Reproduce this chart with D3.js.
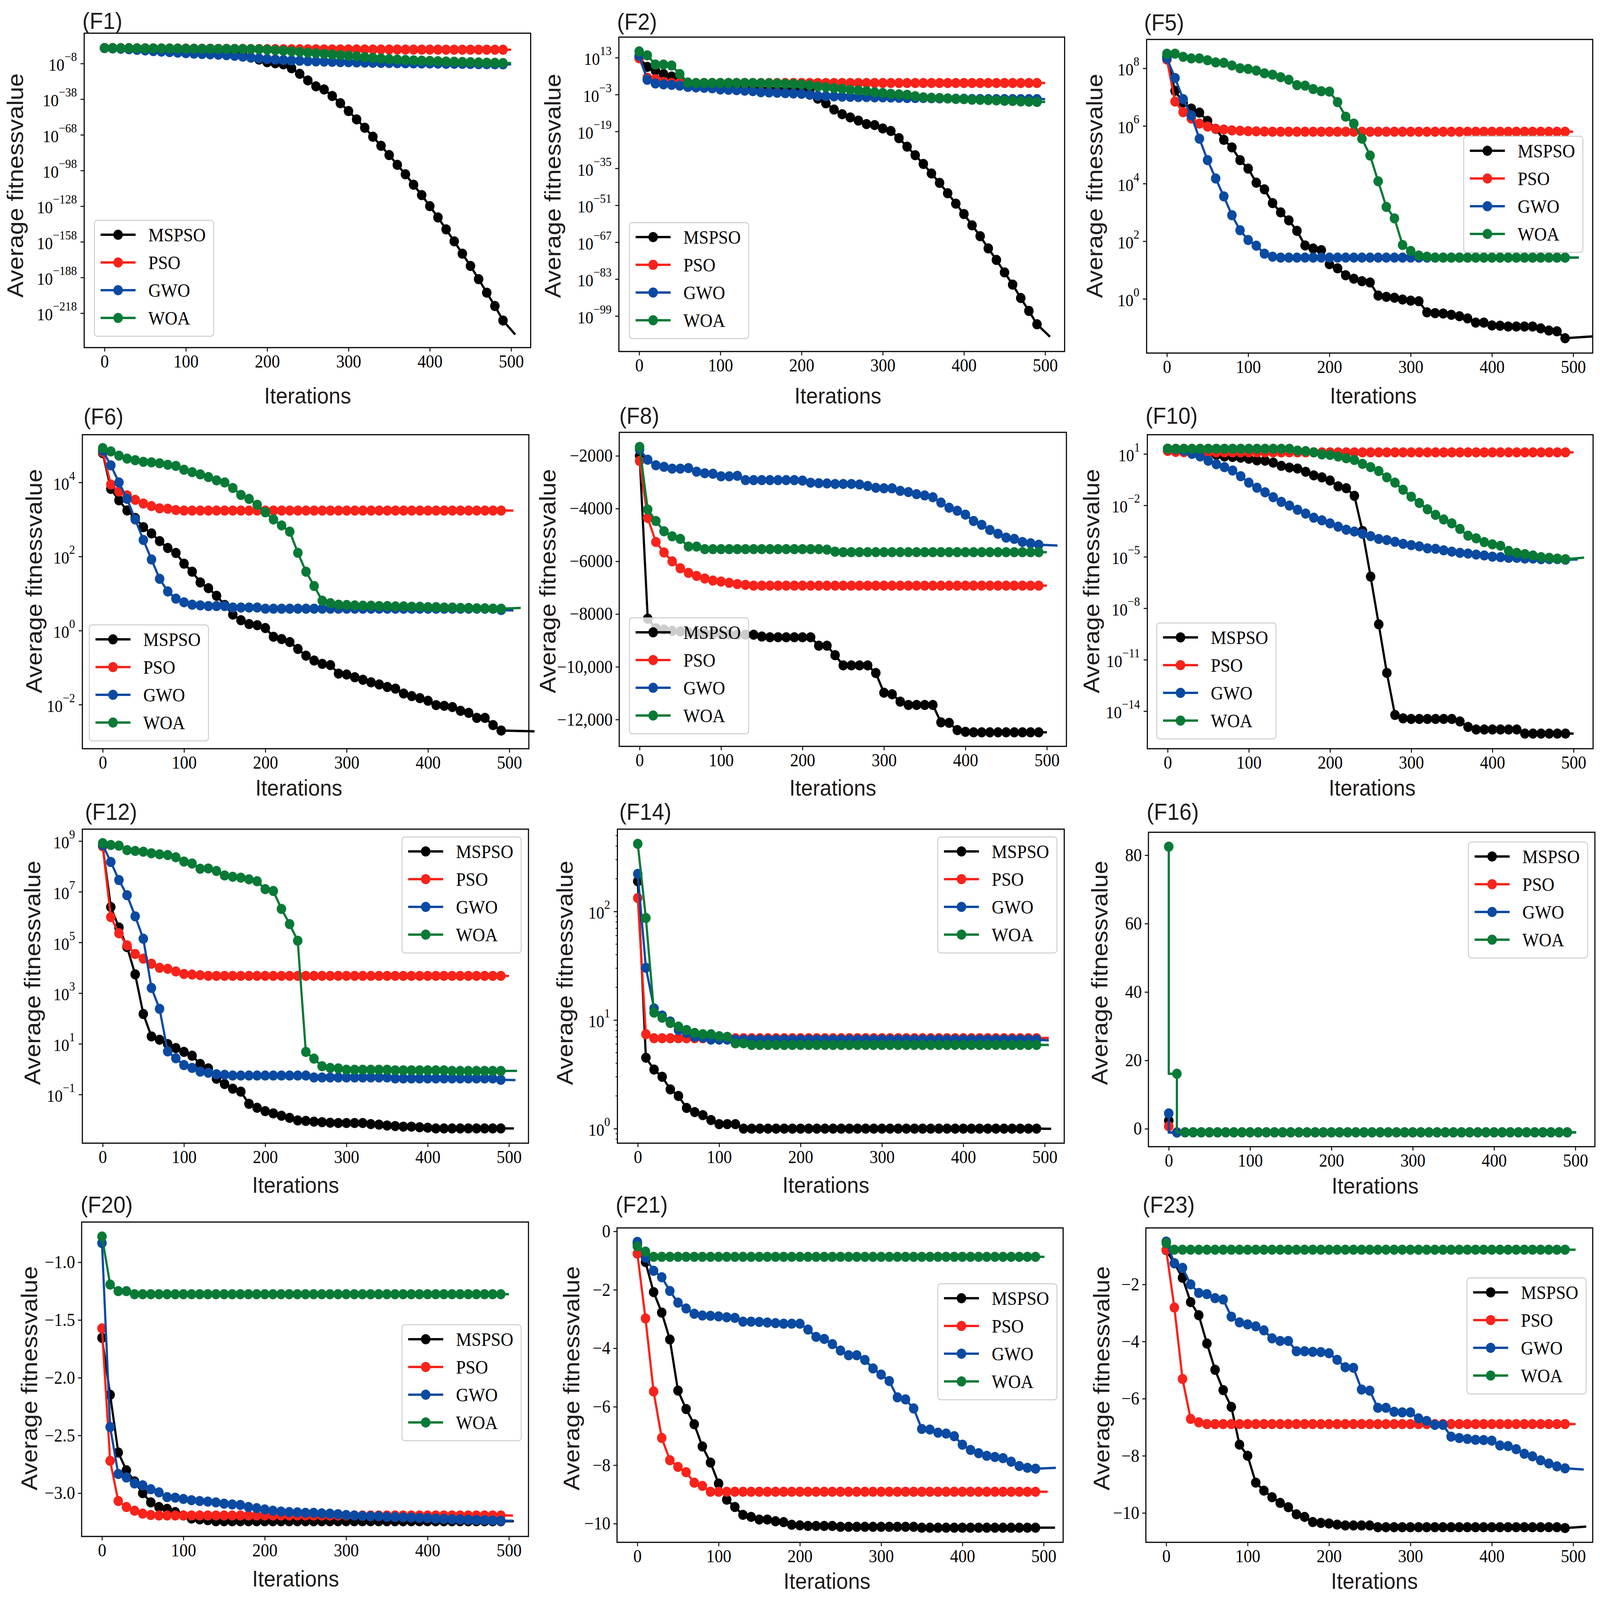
<!DOCTYPE html>
<html><head><meta charset="utf-8">
<script src="https://cdn.jsdelivr.net/npm/d3@7"></script>
<style>html,body{margin:0;padding:0;background:#fff;overflow:hidden}svg{display:block}</style>
</head><body>
<svg id="chart" viewBox="0 0 4390 4089" preserveAspectRatio="none" style="width:100vw;height:100vh"></svg>
<script>
// ---------------- DATA ----------------
const ITER = [0,10,20,30,40,50,60,70,80,90,100,110,120,130,140,150,160,170,180,190,200,210,220,230,240,250,260,270,280,290,300,310,320,330,340,350,360,370,380,390,400,410,420,430,440,450,460,470,480,490];
const SERIES_NAMES = ["MSPSO","PSO","GWO","WOA"];
const SERIES_COLORS = ["#000000","#f8231a","#0b4aa2","#087a36"];
const X_TICKS = [0,100,200,300,400,500];
// each series: 50 marker values (iterations 0..490) + final line-end value

const F1_MSPSO = [
1e5,6e4,3e4,1.6e4,8e3,4e3,2e3,1e3,5e2,2.5e2,
1.2e2,60,30,16,8,3,1,0.2,1e-3,2e-5,
1.2e-7,1.6e-8,2e-9,1e-12,2e-17,6e-23,6e-28,1.6e-30,5e-36,4e-42,
1e-48,1e-55,1e-62,2.5e-70,6e-78,1e-85,6e-94,6e-102,1e-110,2e-119,
1e-128,3e-138,3e-148,2.5e-158,1e-168,5e-179,4e-190,1.6e-201,1e-212,6e-225,
1e-236];
const F1_PSO = [
1e5,1e5,9e4,8e4,7e4,6e4,6e4,5e4,5e4,4e4,
4e4,3e4,3e4,3e4,2e4,2e4,2e4,2e4,1.5e4,1.5e4,
1.2e4,1.2e4,1e4,1e4,1e4,9e3,9e3,8e3,8e3,8e3,
7e3,7e3,7e3,6e3,6e3,6e3,6e3,5e3,5e3,5e3,
5e3,5e3,4e3,4e3,4e3,4e3,4e3,4e3,4e3,4e3,
4e3];
const F1_GWO = [
1e5,6e4,3e4,1e4,3e3,1e3,3e2,1e2,40,13,
5,2,1,0.5,0.25,0.1,0.03,6e-3,1e-3,2e-4,
5e-5,2e-5,8e-6,4e-6,2e-6,1e-6,6e-7,4e-7,2.5e-7,1.6e-7,
1.2e-7,8e-8,6e-8,4e-8,3e-8,2.5e-8,2e-8,1.6e-8,1.2e-8,1e-8,
1e-8,8e-9,6e-9,6e-9,5e-9,4e-9,3e-9,3e-9,2.5e-9,2e-9,
2e-9];
const F1_WOA = [
1e5,1e5,8e4,8e4,6e4,6e4,5e4,5e4,4e4,4e4,
3e4,3e4,2.5e4,2.5e4,2e4,2e4,1.6e4,1.6e4,1.2e4,1e4,
4e3,1.6e3,6e2,2e2,60,16,5,1.6,0.4,0.12,
0.04,0.01,2.5e-3,6e-4,1.6e-4,5e-5,2e-5,1e-5,5e-6,2.5e-6,
1.6e-6,8e-7,5e-7,3e-7,2e-7,1.2e-7,8e-8,5e-8,4e-8,2.5e-8,
2.5e-8];

const F2_MSPSO = [
1e13,1e9,2.5e7,8e5,6e4,1e4,10,5,3,2,
1.2,0.8,0.5,0.3,0.2,0.15,0.12,0.1,0.08,0.07,
0.06,0.04,1.6e-5,1.6e-7,3e-10,3e-12,1.2e-13,5e-15,1.6e-16,6e-17,
2e-18,1.6e-19,1.2e-22,2.5e-26,5e-30,8e-34,6e-38,5e-42,1.6e-46,5e-51,
1.6e-55,2e-60,4e-65,2e-70,2e-75,8e-81,4e-86,6e-92,1.6e-97,2.5e-103,
1e-108];
const F2_PSO = [
5e12,2e4,5e3,3e2,1e2,1e2,1e2,1e2,1e2,1e2,
1e2,1e2,1e2,1e2,1e2,1e2,1e2,1e2,1e2,1e2,
1e2,1e2,1e2,1e2,1e2,1e2,1e2,1e2,1e2,1e2,
1e2,1e2,1e2,1e2,1e2,1e2,1e2,1e2,1e2,1e2,
1e2,1e2,1e2,1e2,1e2,1e2,1e2,1e2,1e2,1e2,
1e2];
const F2_GWO = [
6e13,2.5e3,60,25,16,7,2,1.2,0.8,0.5,
0.16,0.12,0.08,0.05,0.03,0.01,8e-3,6e-3,4e-3,3e-3,
2e-3,8e-4,2.5e-4,2e-4,1.6e-4,1.2e-4,1e-4,8e-5,8e-5,6e-5,
6e-5,5e-5,4e-5,3e-5,3e-5,3e-5,2.5e-5,2e-5,2e-5,1.6e-5,
1.6e-5,1.2e-5,1.2e-5,1e-5,1e-5,1e-5,1e-5,1e-5,1e-5,1e-5,
1e-5];
const F2_WOA = [
5e15,1e14,1e10,1e10,4e9,8e5,1.6e2,1e2,1e2,1e2,
1e2,1e2,1e2,1e2,1e2,80,80,60,50,40,
25,12,3,1.6,0.6,0.3,0.12,0.06,0.03,0.01,
5e-3,2e-3,1.2e-3,8e-4,2e-4,6e-5,4e-5,3e-5,2e-5,1.2e-5,
1e-5,6e-6,5e-6,4e-6,3e-6,2e-6,1.6e-6,1e-6,8e-7,6e-7,
6e-7];

const F5_MSPSO = [
2.5e8,1.65e7,6.5e6,4e6,2.9e6,1.5e6,7.9e5,3.3e5,1.8e5,6.5e4,
3.3e4,1.07e4,6.3e3,2.1e3,1e3,5.3e2,2.3e2,71,56,49,
16,11.5,6.6,5,4.1,3.7,1.3,1.18,1.1,0.95,
0.87,0.83,0.34,0.32,0.31,0.28,0.25,0.21,0.15,0.15,
0.12,0.117,0.11,0.11,0.11,0.11,0.095,0.08,0.075,0.043,
0.05];
const F5_PSO = [
2e8,7e6,3e6,1.8e6,1.2e6,9.5e5,8e5,7.5e5,7e5,6.8e5,
6.6e5,6.5e5,6.4e5,6.3e5,6.3e5,6.3e5,6.3e5,6.3e5,6.3e5,6.3e5,
6.3e5,6.3e5,6.3e5,6.3e5,6.3e5,6.3e5,6.3e5,6.3e5,6.3e5,6.3e5,
6.3e5,6.3e5,6.3e5,6.3e5,6.3e5,6.3e5,6.3e5,6.3e5,6.3e5,6.3e5,
6.3e5,6.3e5,6.3e5,6.3e5,6.3e5,6.3e5,6.3e5,6.3e5,6.3e5,6.3e5,
6.3e5];
const F5_GWO = [
2.2e8,4.6e7,8.5e6,2.3e6,3.6e5,6.5e4,1.5e4,3.6e3,8e2,2.4e2,
1.1e2,70,37,29,27,27,27,27,27,27,
27,27,27,27,27,27,27,27,27,27,
27,27,27,27,27,27,27,27,27,27,
27,27,27,27,27,27,27,27,27,27,
27];
const F5_WOA = [
3.2e8,3.2e8,2.5e8,2.2e8,2.2e8,1.9e8,1.6e8,1.55e8,1.25e8,1e8,
9.5e7,8.3e7,6.7e7,6e7,4.9e7,4e7,2.6e7,2.5e7,1.9e7,1.6e7,
1.55e7,6.7e6,2.1e6,1.2e6,3.6e5,9.4e4,1.2e4,1.55e3,6.2e2,74,
46,32,29,27,27,27,27,27,27,27,
27,27,27,27,27,27,27,27,27,27,
27];

const F6_MSPSO = [
6.2e4,6.7e3,3.3e3,1.75e3,1.1e3,6.2e2,4.2e2,2.6e2,1.7e2,1.25e2,
64,39,20,14,8.7,4.9,2.7,1.9,1.5,1.4,
1.17,0.68,0.59,0.49,0.32,0.21,0.155,0.126,0.117,0.069,
0.065,0.055,0.047,0.04,0.035,0.03,0.027,0.02,0.017,0.015,
0.0127,0.0097,0.0093,0.0086,0.0068,0.006,0.0044,0.0044,0.0028,0.002,
0.0019];
const F6_PSO = [
6.7e4,8.8e3,5.7e3,4.5e3,3.4e3,2.7e3,2.3e3,2e3,1.95e3,1.8e3,
1.74e3,1.74e3,1.74e3,1.74e3,1.74e3,1.74e3,1.74e3,1.74e3,1.74e3,1.74e3,
1.74e3,1.74e3,1.74e3,1.74e3,1.74e3,1.74e3,1.74e3,1.74e3,1.74e3,1.74e3,
1.74e3,1.74e3,1.74e3,1.74e3,1.74e3,1.74e3,1.74e3,1.74e3,1.74e3,1.74e3,
1.74e3,1.74e3,1.74e3,1.74e3,1.74e3,1.74e3,1.74e3,1.74e3,1.74e3,1.74e3,
1.74e3];
const F6_GWO = [
7.3e4,2.9e4,1e4,3.6e3,1e3,2.8e2,83,25,11.4,7.3,
5.8,5,4.8,4.6,4.6,4.6,4.2,4.2,4.2,4.2,
3.9,3.9,3.9,3.9,3.9,3.9,3.9,3.9,3.9,3.9,
3.9,3.9,3.9,3.9,3.9,3.9,3.9,3.9,3.9,3.9,
3.9,3.9,3.9,3.9,3.9,3.9,3.9,3.9,3.9,3.6,
3.5];
const F6_WOA = [
8.5e4,6.9e4,5.3e4,4.4e4,4e4,3.6e4,3.5e4,3.3e4,3e4,2.8e4,
2.2e4,1.9e4,1.66e4,1.4e4,1.14e4,1e4,7.1e3,4.6e3,3.6e3,2.5e3,
1.56e3,1e3,6.9e2,4.7e2,1.26e2,39,16,6.4,5.5,5,
4.9,4.8,4.7,4.7,4.6,4.6,4.5,4.5,4.4,4.4,
4.3,4.3,4.2,4.2,4.1,4.1,4,4,3.9,3.9,
4.1];

const F8_MSPSO = [
-2000,-8173,-8541,-8590,-8638,-8657,-8700,-8720,-8740,-8750,
-8760,-8770,-8780,-8780,-8783,-8851,-8880,-8880,-8880,-8880,
-8880,-8880,-9200,-9200,-9558,-9946,-9946,-9946,-9946,-10237,
-10983,-11041,-11322,-11448,-11448,-11448,-11448,-12107,-12126,-12398,
-12465,-12485,-12485,-12485,-12485,-12485,-12485,-12485,-12485,-12485,
-12485];
const F8_PSO = [
-2194,-4355,-5266,-5663,-6002,-6264,-6438,-6554,-6651,-6729,
-6767,-6816,-6864,-6893,-6923,-6923,-6923,-6923,-6923,-6923,
-6923,-6923,-6923,-6923,-6923,-6923,-6923,-6923,-6923,-6923,
-6923,-6923,-6923,-6923,-6923,-6923,-6923,-6923,-6923,-6923,
-6923,-6923,-6923,-6923,-6923,-6923,-6923,-6923,-6923,-6923,
-6923];
const F8_GWO = [
-1758,-2145,-2358,-2417,-2485,-2485,-2465,-2600,-2659,-2678,
-2775,-2775,-2756,-2921,-2921,-2921,-2921,-2921,-2921,-2921,
-2940,-3018,-3037,-3047,-3066,-3066,-3066,-3085,-3143,-3211,
-3231,-3231,-3328,-3376,-3454,-3502,-3570,-3773,-3967,-4083,
-4229,-4471,-4616,-4810,-4955,-5101,-5150,-5266,-5314,-5372,
-5400];
const F8_WOA = [
-1661,-4035,-4471,-4859,-5053,-5150,-5440,-5440,-5537,-5537,
-5537,-5537,-5537,-5537,-5537,-5537,-5537,-5537,-5537,-5537,
-5537,-5537,-5537,-5556,-5634,-5653,-5653,-5653,-5653,-5653,
-5653,-5653,-5653,-5653,-5653,-5653,-5653,-5653,-5653,-5653,
-5653,-5653,-5653,-5653,-5653,-5653,-5653,-5653,-5653,-5653,
-5653];

const F10_MSPSO = [
20,19,18,16,14,11,8.7,7.1,6.6,6,
5.2,4.2,4,3.1,2,1.6,1.4,0.91,0.56,0.43,
0.28,0.128,0.1,0.036,3.2e-4,7e-7,1.15e-9,1.7e-12,6e-15,3.8e-15,
3.5e-15,3.5e-15,3.5e-15,3.5e-15,3.5e-15,3.5e-15,2.5e-15,1.2e-15,8.5e-16,8.5e-16,
8.5e-16,8.5e-16,8.5e-16,8.5e-16,4.9e-16,4.9e-16,4.9e-16,4.9e-16,4.9e-16,4.9e-16,
4.9e-16];
const F10_PSO = [
15,13,12.5,12.3,12.3,12.3,12.3,12.3,12.3,12.3,
12.3,12.3,12.3,12.3,12.3,12.3,12.3,12.3,12.3,12.3,
12.3,12.3,12.3,12.3,12.3,12.3,12.3,12.3,12.3,12.3,
12.3,12.3,12.3,12.3,12.3,12.3,12.3,12.3,12.3,12.3,
12.3,12.3,12.3,12.3,12.3,12.3,12.3,12.3,12.3,12.3,
12.3];
const F10_GWO = [
20,18.6,15.6,10,7.1,4,2.5,1.7,1.07,0.5,
0.21,0.107,0.058,0.03,0.016,0.0097,0.0055,0.0033,0.0019,0.00134,
8.9e-4,5.7e-4,3.8e-4,2.98e-4,2.2e-4,1.6e-4,1.1e-4,9.5e-5,7.5e-5,5.7e-5,
4.8e-5,4.1e-5,3.1e-5,2.9e-5,2.4e-5,2e-5,1.7e-5,1.55e-5,1.35e-5,1.2e-5,
1.02e-5,9.5e-6,8.7e-6,8.7e-6,7.9e-6,7.9e-6,7.3e-6,7.3e-6,7.3e-6,6.8e-6,
7e-6];
const F10_WOA = [
20,20,20,20,20,20,20,20,20,20,
20,20,20,20,20,20,15.5,14.5,12.3,9.3,
8.7,7.1,5.6,4.4,2.6,1.7,1,0.43,0.21,0.081,
0.032,0.0138,0.0059,0.0028,0.0015,8.9e-4,4.2e-4,1.7e-4,1.2e-4,7.2e-5,
5.3e-5,4.4e-5,2.2e-5,1.7e-5,1.44e-5,1.2e-5,9.5e-6,8.7e-6,7.9e-6,7.3e-6,
9e-6];

const F12_MSPSO = [
6.3e8,2.5e6,3.9e5,6.6e4,5.5e3,1.5e2,19.6,14.5,9.8,6.8,
4.8,3.4,1.6,1.07,0.42,0.26,0.17,0.13,0.043,0.03,
0.022,0.018,0.0145,0.012,0.0095,0.0091,0.0085,0.0081,0.0077,0.0075,
0.0075,0.0075,0.0075,0.0068,0.0065,0.006,0.0057,0.0054,0.0054,0.0051,
0.0049,0.0046,0.0046,0.0046,0.0046,0.0046,0.0046,0.0046,0.0046,0.0046,
0.0046];
const F12_PSO = [
6.3e8,1e6,2.3e5,7.7e4,3.5e4,2.3e4,1.45e4,1e4,9.1e3,7.2e3,
5.7e3,5.4e3,5.1e3,4.8e3,4.8e3,4.8e3,4.8e3,4.8e3,4.8e3,4.8e3,
4.8e3,4.8e3,4.8e3,4.8e3,4.8e3,4.8e3,4.8e3,4.8e3,4.8e3,4.8e3,
4.8e3,4.8e3,4.8e3,4.8e3,4.8e3,4.8e3,4.8e3,4.8e3,4.8e3,4.8e3,
4.8e3,4.8e3,4.8e3,4.8e3,4.8e3,4.8e3,4.8e3,4.8e3,4.8e3,4.8e3,
4.8e3];
const F12_GWO = [
7e8,1.5e8,2.9e7,7.3e6,1.07e6,1.4e5,1.6e3,2.4e2,5,2.7,
1.45,1.12,0.8,0.72,0.63,0.6,0.56,0.56,0.56,0.56,
0.56,0.56,0.56,0.56,0.56,0.56,0.47,0.47,0.47,0.47,
0.47,0.47,0.47,0.47,0.47,0.47,0.43,0.43,0.43,0.43,
0.43,0.43,0.43,0.43,0.43,0.43,0.43,0.43,0.43,0.38,
0.37];
const F12_WOA = [
8.3e8,7e8,6.6e8,4.4e8,4.1e8,3.8e8,3.3e8,3e8,2.8e8,2.3e8,
1.55e8,1.3e8,8.1e7,8.3e7,6.6e7,4.4e7,3.9e7,3.6e7,3.1e7,2.6e7,
1.27e7,1.07e7,2.1e6,5.3e5,1.17e5,4.8,2.6,1.3,1.12,1.07,
0.95,0.95,0.95,0.95,0.95,0.95,0.9,0.9,0.9,0.9,
0.9,0.9,0.9,0.85,0.85,0.85,0.85,0.85,0.85,0.85,
0.85];

const F14_MSPSO = [
190,4.5,3.5,3.0,2.3,2.0,1.55,1.42,1.33,1.2,
1.1,1.1,1.1,1.0,1.0,1.0,1.0,1.0,1.0,1.0,
1.0,1.0,1.0,1.0,1.0,1.0,1.0,1.0,1.0,1.0,
1.0,1.0,1.0,1.0,1.0,1.0,1.0,1.0,1.0,1.0,
1.0,1.0,1.0,1.0,1.0,1.0,1.0,1.0,1.0,1.0,
0.995];
const F14_PSO = [
133,7.4,6.8,6.8,6.8,6.8,6.8,6.8,6.8,6.8,
6.8,6.8,6.8,6.8,6.8,6.8,6.8,6.8,6.8,6.8,
6.8,6.8,6.8,6.8,6.8,6.8,6.8,6.8,6.8,6.8,
6.8,6.8,6.8,6.8,6.8,6.8,6.8,6.8,6.8,6.8,
6.8,6.8,6.8,6.8,6.8,6.8,6.8,6.8,6.8,6.8,
6.85];
const F14_GWO = [
222,30.3,12.8,11,9.7,8.1,7.6,7.0,6.9,6.6,
6.6,6.6,6.6,6.6,6.6,6.6,6.6,6.6,6.6,6.6,
6.6,6.6,6.6,6.6,6.6,6.6,6.6,6.6,6.6,6.6,
6.6,6.6,6.6,6.6,6.6,6.6,6.6,6.6,6.6,6.6,
6.6,6.6,6.6,6.6,6.6,6.6,6.6,6.6,6.6,6.6,
6.5];
const F14_WOA = [
420,87,11.7,10.5,9.4,8.7,8.1,7.6,7.4,7.4,
7.1,7.0,6.1,6.1,5.9,5.9,5.9,5.9,5.9,5.9,
5.9,5.9,5.9,5.9,5.9,5.9,5.9,5.9,5.9,5.9,
5.9,5.9,5.9,5.9,5.9,5.9,5.9,5.9,5.9,5.9,
5.9,5.9,5.9,5.9,5.9,5.9,5.9,5.9,5.9,5.9,
5.9];

const F16_MSPSO = [
2.4,-1.03,-1.03,-1.03,-1.03,-1.03,-1.03,-1.03,-1.03,-1.03,
-1.03,-1.03,-1.03,-1.03,-1.03,-1.03,-1.03,-1.03,-1.03,-1.03,
-1.03,-1.03,-1.03,-1.03,-1.03,-1.03,-1.03,-1.03,-1.03,-1.03,
-1.03,-1.03,-1.03,-1.03,-1.03,-1.03,-1.03,-1.03,-1.03,-1.03,
-1.03,-1.03,-1.03,-1.03,-1.03,-1.03,-1.03,-1.03,-1.03,-1.03,
-1.03];
const F16_PSO = [
0.75,-1.03,-1.03,-1.03,-1.03,-1.03,-1.03,-1.03,-1.03,-1.03,
-1.03,-1.03,-1.03,-1.03,-1.03,-1.03,-1.03,-1.03,-1.03,-1.03,
-1.03,-1.03,-1.03,-1.03,-1.03,-1.03,-1.03,-1.03,-1.03,-1.03,
-1.03,-1.03,-1.03,-1.03,-1.03,-1.03,-1.03,-1.03,-1.03,-1.03,
-1.03,-1.03,-1.03,-1.03,-1.03,-1.03,-1.03,-1.03,-1.03,-1.03,
-1.03];
const F16_GWO = [
4.5,-1.1,-1.03,-1.03,-1.03,-1.03,-1.03,-1.03,-1.03,-1.03,
-1.03,-1.03,-1.03,-1.03,-1.03,-1.03,-1.03,-1.03,-1.03,-1.03,
-1.03,-1.03,-1.03,-1.03,-1.03,-1.03,-1.03,-1.03,-1.03,-1.03,
-1.03,-1.03,-1.03,-1.03,-1.03,-1.03,-1.03,-1.03,-1.03,-1.03,
-1.03,-1.03,-1.03,-1.03,-1.03,-1.03,-1.03,-1.03,-1.03,-1.03,
-1.03];
const F16_WOA = [
82.5,16.1,-1.03,-1.03,-1.03,-1.03,-1.03,-1.03,-1.03,-1.03,
-1.03,-1.03,-1.03,-1.03,-1.03,-1.03,-1.03,-1.03,-1.03,-1.03,
-1.03,-1.03,-1.03,-1.03,-1.03,-1.03,-1.03,-1.03,-1.03,-1.03,
-1.03,-1.03,-1.03,-1.03,-1.03,-1.03,-1.03,-1.03,-1.03,-1.03,
-1.03,-1.03,-1.03,-1.03,-1.03,-1.03,-1.03,-1.03,-1.03,-1.03,
-1.03];

const F20_MSPSO = [
-1.655,-2.148,-2.648,-2.802,-2.898,-3.0,-3.08,-3.12,-3.136,-3.164,
-3.193,-3.22,-3.227,-3.234,-3.243,-3.243,-3.243,-3.243,-3.243,-3.243,
-3.243,-3.243,-3.243,-3.243,-3.243,-3.243,-3.243,-3.243,-3.243,-3.243,
-3.243,-3.243,-3.243,-3.243,-3.243,-3.243,-3.243,-3.243,-3.243,-3.243,
-3.243,-3.243,-3.243,-3.243,-3.243,-3.243,-3.243,-3.243,-3.243,-3.243,
-3.243];
const F20_PSO = [
-1.573,-2.72,-3.068,-3.12,-3.152,-3.177,-3.189,-3.193,-3.193,-3.193,
-3.193,-3.193,-3.193,-3.193,-3.193,-3.193,-3.193,-3.193,-3.193,-3.193,
-3.193,-3.193,-3.193,-3.193,-3.193,-3.193,-3.193,-3.193,-3.193,-3.193,
-3.193,-3.193,-3.193,-3.193,-3.193,-3.193,-3.193,-3.193,-3.193,-3.193,
-3.193,-3.193,-3.193,-3.193,-3.193,-3.193,-3.193,-3.193,-3.193,-3.193,
-3.193];
const F20_GWO = [
-0.834,-2.427,-2.834,-2.864,-2.916,-2.932,-2.966,-2.993,-3.034,-3.039,
-3.05,-3.061,-3.068,-3.073,-3.08,-3.091,-3.098,-3.102,-3.12,-3.13,
-3.141,-3.152,-3.159,-3.164,-3.166,-3.17,-3.17,-3.175,-3.177,-3.182,
-3.189,-3.193,-3.198,-3.2,-3.2,-3.205,-3.207,-3.209,-3.211,-3.214,
-3.216,-3.22,-3.223,-3.225,-3.227,-3.23,-3.232,-3.234,-3.236,-3.239,
-3.239];
const F20_WOA = [
-0.777,-1.193,-1.25,-1.25,-1.277,-1.277,-1.277,-1.277,-1.277,-1.277,
-1.277,-1.277,-1.277,-1.277,-1.277,-1.277,-1.277,-1.277,-1.277,-1.277,
-1.277,-1.277,-1.277,-1.277,-1.277,-1.277,-1.277,-1.277,-1.277,-1.277,
-1.277,-1.277,-1.277,-1.277,-1.277,-1.277,-1.277,-1.277,-1.277,-1.277,
-1.277,-1.277,-1.277,-1.277,-1.277,-1.277,-1.277,-1.277,-1.277,-1.277,
-1.277];

const F21_MSPSO = [
-0.42,-1.05,-2.08,-2.78,-3.7,-5.45,-6.08,-6.6,-7.36,-7.91,
-8.63,-9.18,-9.43,-9.7,-9.77,-9.86,-9.86,-9.92,-9.95,-10.04,
-10.06,-10.08,-10.08,-10.08,-10.08,-10.11,-10.11,-10.11,-10.11,-10.11,
-10.11,-10.11,-10.11,-10.11,-10.11,-10.14,-10.14,-10.14,-10.14,-10.14,
-10.14,-10.14,-10.14,-10.14,-10.14,-10.14,-10.14,-10.14,-10.14,-10.14,
-10.14];
const F21_PSO = [
-0.764,-2.98,-5.48,-7.07,-7.83,-8.06,-8.24,-8.6,-8.71,-8.91,
-8.91,-8.91,-8.91,-8.91,-8.91,-8.91,-8.91,-8.91,-8.91,-8.91,
-8.91,-8.91,-8.91,-8.91,-8.91,-8.91,-8.91,-8.91,-8.91,-8.91,
-8.91,-8.91,-8.91,-8.91,-8.91,-8.91,-8.91,-8.91,-8.91,-8.91,
-8.91,-8.91,-8.91,-8.91,-8.91,-8.91,-8.91,-8.91,-8.91,-8.91,
-8.91];
const F21_GWO = [
-0.36,-0.9,-1.35,-1.57,-2.04,-2.44,-2.64,-2.82,-2.88,-2.89,
-2.91,-2.94,-2.96,-3.09,-3.09,-3.1,-3.12,-3.14,-3.16,-3.16,
-3.16,-3.36,-3.61,-3.68,-3.86,-4.08,-4.24,-4.24,-4.4,-4.69,
-4.9,-5.12,-5.68,-5.75,-6.06,-6.76,-6.78,-6.89,-6.92,-7.01,
-7.3,-7.48,-7.59,-7.68,-7.72,-7.76,-7.88,-8.03,-8.09,-8.12,
-8.09];
const F21_WOA = [
-0.512,-0.692,-0.872,-0.872,-0.872,-0.872,-0.872,-0.872,-0.872,-0.872,
-0.872,-0.872,-0.872,-0.872,-0.872,-0.872,-0.872,-0.872,-0.872,-0.872,
-0.872,-0.872,-0.872,-0.872,-0.872,-0.872,-0.872,-0.872,-0.872,-0.872,
-0.872,-0.872,-0.872,-0.872,-0.872,-0.872,-0.872,-0.872,-0.872,-0.872,
-0.872,-0.872,-0.872,-0.872,-0.872,-0.872,-0.872,-0.872,-0.872,-0.872,
-0.872];

const F23_MSPSO = [
-0.8,-1.26,-1.77,-2.62,-3.08,-4.07,-4.99,-5.7,-6.29,-7.61,
-8.0,-8.94,-9.22,-9.45,-9.65,-9.8,-10.05,-10.14,-10.32,-10.35,
-10.37,-10.41,-10.44,-10.44,-10.44,-10.44,-10.5,-10.5,-10.5,-10.5,
-10.5,-10.5,-10.5,-10.5,-10.5,-10.5,-10.5,-10.5,-10.5,-10.5,
-10.5,-10.5,-10.5,-10.5,-10.5,-10.5,-10.5,-10.5,-10.5,-10.53,
-10.48];
const F23_PSO = [
-0.786,-2.81,-5.31,-6.71,-6.83,-6.89,-6.89,-6.89,-6.89,-6.89,
-6.89,-6.89,-6.89,-6.89,-6.89,-6.89,-6.89,-6.89,-6.89,-6.89,
-6.89,-6.89,-6.89,-6.89,-6.89,-6.89,-6.89,-6.89,-6.89,-6.89,
-6.89,-6.89,-6.89,-6.89,-6.89,-6.89,-6.89,-6.89,-6.89,-6.89,
-6.89,-6.89,-6.89,-6.89,-6.89,-6.89,-6.89,-6.89,-6.89,-6.89,
-6.89];
const F23_GWO = [
-0.5,-1.26,-1.42,-2.0,-2.3,-2.34,-2.48,-2.53,-3.13,-3.33,
-3.4,-3.47,-3.61,-3.89,-3.98,-3.98,-4.34,-4.34,-4.36,-4.37,
-4.41,-4.64,-4.9,-4.92,-5.68,-5.72,-6.32,-6.32,-6.46,-6.48,
-6.48,-6.69,-6.78,-6.92,-6.92,-7.33,-7.38,-7.41,-7.44,-7.45,
-7.47,-7.64,-7.66,-7.77,-7.93,-8.02,-8.16,-8.27,-8.37,-8.44,
-8.48];
const F23_WOA = [
-0.556,-0.786,-0.786,-0.786,-0.786,-0.786,-0.786,-0.786,-0.786,-0.786,
-0.786,-0.786,-0.786,-0.786,-0.786,-0.786,-0.786,-0.786,-0.786,-0.786,
-0.786,-0.786,-0.786,-0.786,-0.786,-0.786,-0.786,-0.786,-0.786,-0.786,
-0.786,-0.786,-0.786,-0.786,-0.786,-0.786,-0.786,-0.786,-0.786,-0.786,
-0.786,-0.786,-0.786,-0.786,-0.786,-0.786,-0.786,-0.786,-0.786,-0.786,
-0.786];

// tick values / labels
const F1_YTICKS = [1e-8,1e-38,1e-68,1e-98,1e-128,1e-158,1e-188,1e-218];
const F1_YLABELS = ["\u22128","\u221238","\u221268","\u221298","\u2212128","\u2212158","\u2212188","\u2212218"];
const F2_YTICKS = [1e13,1e-3,1e-19,1e-35,1e-51,1e-67,1e-83,1e-99];
const F2_YLABELS = ["13","\u22123","\u221219","\u221235","\u221251","\u221267","\u221283","\u221299"];
const F5_YTICKS = [1e8,1e6,1e4,1e2,1e0];
const F5_YLABELS = ["8","6","4","2","0"];
const F6_YTICKS = [1e4,1e2,1e0,1e-2];
const F6_YLABELS = ["4","2","0","\u22122"];
const F8_YTICKS = [-2000,-4000,-6000,-8000,-10000,-12000];
const F8_YLABELS = ["\u22122000","\u22124000","\u22126000","\u22128000","\u221210,000","\u221212,000"];
const F10_YTICKS = [1e1,1e-2,1e-5,1e-8,1e-11,1e-14];
const F10_YLABELS = ["1","\u22122","\u22125","\u22128","\u221211","\u221214"];
const F12_YTICKS = [1e9,1e7,1e5,1e3,1e1,1e-1];
const F12_YLABELS = ["9","7","5","3","1","\u22121"];
const F14_YTICKS = [1e2,1e1,1e0];
const F14_YLABELS = ["2","1","0"];
const F14_MINOR = [0.8,0.9,2,3,4,5,6,7,8,9,20,30,40,50,60,70,80,90,200,300,400,500];
const F16_YTICKS = [0,20,40,60,80];
const F16_YLABELS = ["0","20","40","60","80"];
const F20_YTICKS = [-1.0,-1.5,-2.0,-2.5,-3.0];
const F20_YLABELS = ["\u22121.0","\u22121.5","\u22122.0","\u22122.5","\u22123.0"];
const F21_YTICKS = [0,-2,-4,-6,-8,-10];
const F21_YLABELS = ["0","\u22122","\u22124","\u22126","\u22128","\u221210"];
const F23_YTICKS = [-2,-4,-6,-8,-10];
const F23_YLABELS = ["\u22122","\u22124","\u22126","\u22128","\u221210"];

// ---------------- LAYOUT ----------------
const PANELS = [
 {title:"(F1)", series:[F1_MSPSO,F1_PSO,F1_GWO,F1_WOA], ends:[505,500,500,500], frame:[231,85,1456,890], log:true, yDom:[-247,17.5], yTicks:F1_YTICKS, yLabels:F1_YLABELS, tpos:[226,74], xlab:[844,1033], ylab:[63,475], legend:[259,564]},
 {title:"(F2)", series:[F2_MSPSO,F2_PSO,F2_GWO,F2_WOA], ends:[506,500,500,500], frame:[1698,95,2921,900], log:true, yDom:[-114.4,21.9], yTicks:F2_YTICKS, yLabels:F2_YLABELS, tpos:[1693,76], xlab:[2299,1033], ylab:[1538,476], legend:[1727,570]},
 {title:"(F5)", series:[F5_MSPSO,F5_PSO,F5_GWO,F5_WOA], ends:[524,500,505,507], frame:[3146,101,4370,904], log:true, yDom:[-1.88,9.0], yTicks:F5_YTICKS, yLabels:F5_YLABELS, tpos:[3139,78], xlab:[3768,1033], ylab:[3025,476], legend:[4016,349]},
 {title:"(F6)", series:[F6_MSPSO,F6_PSO,F6_GWO,F6_WOA], ends:[531,505,505,514], frame:[226,1113,1451,1917], log:true, yDom:[-3.19,5.29], yTicks:F6_YTICKS, yLabels:F6_YLABELS, tpos:[229,1087], xlab:[820,2037], ylab:[115,1488], legend:[245,1600]},
 {title:"(F8)", series:[F8_MSPSO,F8_PSO,F8_GWO,F8_WOA], ends:[500,500,513,500], frame:[1699,1107,2926,1911], log:false, yDom:[-13017,-1109], yTicks:F8_YTICKS, yLabels:F8_YLABELS, tpos:[1699,1085], xlab:[2285,2037], ylab:[1524,1488], legend:[1727,1582]},
 {title:"(F10)", series:[F10_MSPSO,F10_PSO,F10_GWO,F10_WOA], ends:[500,500,505,513], frame:[3148,1113,4371,1917], log:true, yDom:[-16.19,2.12], yTicks:F10_YTICKS, yLabels:F10_YLABELS, tpos:[3143,1085], xlab:[3765,2037], ylab:[3016,1488], legend:[3174,1595]},
 {title:"(F12)", series:[F12_MSPSO,F12_PSO,F12_GWO,F12_WOA], ends:[506,500,508,510], frame:[226,2123,1450,2927], log:true, yDom:[-2.92,9.47], yTicks:F12_YTICKS, yLabels:F12_YLABELS, tpos:[233,2099], xlab:[811,3054], ylab:[110,2491], legend:[1103,2143]},
 {title:"(F14)", series:[F14_MSPSO,F14_PSO,F14_GWO,F14_WOA], ends:[508,505,505,505], frame:[1694,2123,2920,2927], log:true, yDom:[-0.134,2.758], yTicks:F14_YTICKS, yLabels:F14_YLABELS, minor:F14_MINOR, tpos:[1699,2099], xlab:[2266,3054], ylab:[1571,2491], legend:[2573,2143]},
 {title:"(F16)", series:[F16_MSPSO,F16_PSO,F16_GWO,F16_WOA], ends:[501,501,501,501], frame:[3151,2131,4376,2936], log:false, yDom:[-5.23,86.7], yTicks:F16_YTICKS, yLabels:F16_YLABELS, step:true, tpos:[3146,2099], xlab:[3773,3056], ylab:[3039,2491], legend:[4029,2156]},
 {title:"(F20)", series:[F20_MSPSO,F20_PSO,F20_GWO,F20_WOA], ends:[506,505,505,500], frame:[224,3129,1450,3934], log:false, yDom:[-3.375,-0.652], yTicks:F20_YTICKS, yLabels:F20_YLABELS, tpos:[221,3105], xlab:[811,4062], ylab:[102,3529], legend:[1103,3392]},
 {title:"(F21)", series:[F21_MSPSO,F21_PSO,F21_GWO,F21_WOA], ends:[514,505,515,501], frame:[1693,3144,2917,3949], log:false, yDom:[-10.64,0.117], yTicks:F21_YTICKS, yLabels:F21_YLABELS, tpos:[1689,3105], xlab:[2269,4068], ylab:[1589,3529], legend:[2573,3287]},
 {title:"(F23)", series:[F23_MSPSO,F23_PSO,F23_GWO,F23_WOA], ends:[516,503,513,503], frame:[3144,3144,4370,3949], log:false, yDom:[-11.03,-0.023], yTicks:F23_YTICKS, yLabels:F23_YLABELS, tpos:[3135,3105], xlab:[3771,4068], ylab:[3044,3529], legend:[4025,3272]}
];

// ---------------- DRAW ----------------
const SANS = "'Liberation Sans', Arial, Helvetica, sans-serif";
const SERIF = "'Liberation Serif', 'Times New Roman', Times, serif";
const TXT = "#1e1a18";
const MR = 13, LW = 6;
const svg = d3.select("#chart");
svg.append("rect").attr("width",4390).attr("height",4089).attr("fill","#fff");

PANELS.forEach(p => {
  const [x0,y0,x1,y1] = p.frame;
  const g = svg.append("g");
  const x = d3.scaleLinear().domain([-25,524]).range([x0,x1]);
  const y = p.log
    ? d3.scaleLog().domain([Math.pow(10,p.yDom[0]), Math.pow(10,p.yDom[1])]).range([y1,y0])
    : d3.scaleLinear().domain(p.yDom).range([y1,y0]);

  // x axis
  const xa = g.append("g").attr("transform",`translate(0,${y1})`)
    .call(d3.axisBottom(x).tickValues(X_TICKS).tickSize(10).tickPadding(8).tickFormat(d3.format("d")));
  xa.select(".domain").remove();
  xa.selectAll("line").attr("stroke","#000").attr("stroke-width",2.5);
  xa.selectAll("text").attr("font-family",SERIF).attr("font-size",46).attr("fill","#000");

  // y axis
  const ya = g.append("g").attr("transform",`translate(${x0},0)`)
    .call(d3.axisLeft(y).tickValues(p.yTicks).tickSize(10).tickPadding(8).tickFormat((d,i)=>p.yLabels[i]));
  ya.select(".domain").remove();
  ya.selectAll("line").attr("stroke","#000").attr("stroke-width",2.5);
  const tt = ya.selectAll("text").attr("font-family",SERIF).attr("fill","#000");
  if (p.log) {
    tt.each(function(d,i){
      const t = d3.select(this);
      t.text(null).attr("dy",null).attr("y",18).attr("x",-20).attr("font-size",44);
      t.append("tspan").text("10");
      t.append("tspan").attr("font-size",32).attr("dy",-25).text(p.yLabels[i]);
    });
  } else {
    tt.attr("font-size",46);
  }
  if (p.minor) {
    g.append("g").selectAll("line").data(p.minor).join("line")
      .attr("x1",x0).attr("x2",x0-5).attr("y1",d=>y(d)).attr("y2",d=>y(d))
      .attr("stroke","#000").attr("stroke-width",2);
  }

  // series
  const line = d3.line().x(d=>x(d[0])).y(d=>y(d[1]))
    .curve(p.step ? d3.curveStepBefore : d3.curveLinear);
  p.series.forEach((vals,k) => {
    const pts = ITER.map((it,i)=>[it, vals[i]]);
    const linePts = pts.concat([[p.ends[k], vals[ITER.length]]]);
    const sg = g.append("g");
    sg.append("path").datum(linePts).attr("d",line).attr("fill","none")
      .attr("stroke",SERIES_COLORS[k]).attr("stroke-width",LW).attr("stroke-linejoin","round");
    sg.selectAll("circle").data(pts).join("circle")
      .attr("cx",d=>x(d[0])).attr("cy",d=>y(d[1])).attr("r",MR).attr("fill",SERIES_COLORS[k]);
  });

  // frame
  g.append("rect").attr("x",x0).attr("y",y0).attr("width",x1-x0).attr("height",y1-y0)
    .attr("fill","none").attr("stroke","#000").attr("stroke-width",3);

  // texts
  g.append("text").attr("x",p.tpos[0]).attr("y",p.tpos[1]).attr("font-family",SANS)
    .attr("font-size",60).attr("fill",TXT).text(p.title);
  g.append("text").attr("x",p.xlab[0]).attr("y",p.xlab[1]).attr("text-anchor","middle")
    .attr("font-family",SANS).attr("font-size",58).attr("fill",TXT).text("Iterations");
  g.append("text").attr("transform",`translate(${p.ylab[0]},${p.ylab[1]}) rotate(-90)`)
    .attr("text-anchor","middle").attr("font-family",SANS).attr("font-size",62).attr("fill",TXT)
    .text("Average fitnessvalue");

  // legend
  const [lx,ly] = p.legend;
  const lg = g.append("g").attr("transform",`translate(${lx},${ly})`);
  lg.append("rect").attr("width",327).attr("height",297).attr("rx",8)
    .attr("fill","#fff").attr("fill-opacity",0.8).attr("stroke","#cccccc").attr("stroke-width",2.5);
  SERIES_NAMES.forEach((n,k) => {
    const yy = 37 + k*71;
    lg.append("line").attr("x1",17).attr("x2",113).attr("y1",yy).attr("y2",yy)
      .attr("stroke",SERIES_COLORS[k]).attr("stroke-width",LW);
    lg.append("circle").attr("cx",65).attr("cy",yy).attr("r",MR).attr("fill",SERIES_COLORS[k]);
    lg.append("text").attr("x",148).attr("y",yy).attr("dy","0.35em").attr("font-family",SERIF)
      .attr("font-size",48).attr("fill","#000").text(n);
  });
});
</script>
</body></html>
